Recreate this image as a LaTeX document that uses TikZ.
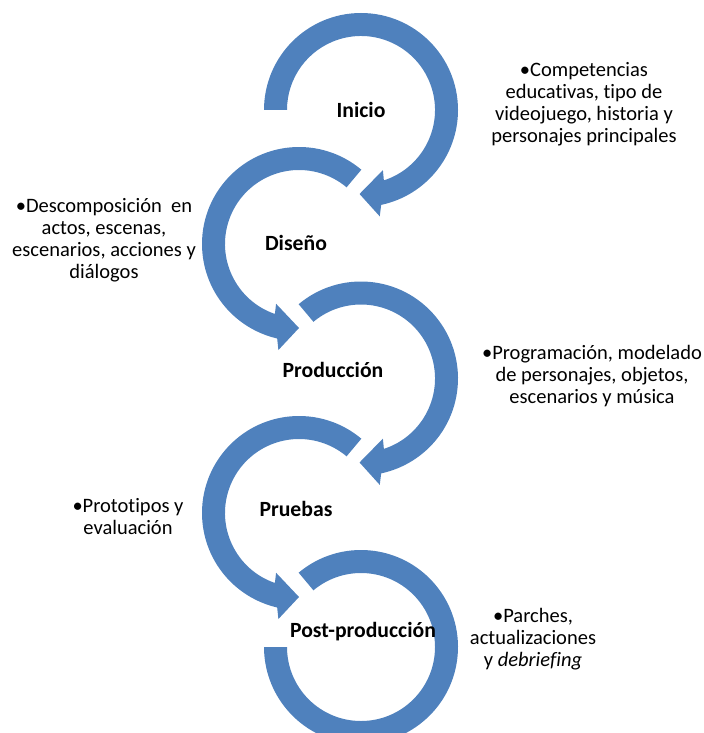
\documentclass[tikz,border=0pt]{standalone}
\usepackage{fontspec}
\setmainfont{Carlito}[Ligatures=NoCommon]
\usepackage{tikz}
\definecolor{ringblue}{RGB}{79,129,189}
\tikzstyle{ring} = [fill=ringblue]
\tikzstyle{stage} = [font=\fontsize{21.7bp}{24bp}\selectfont\bfseries, inner sep=0pt]
\tikzstyle{note} = [font=\fontsize{20.5bp}{22bp}\selectfont, align=center, inner sep=0pt]

\begin{document}
\begin{tikzpicture}[x=1bp, y=1bp]
    \clip (0,0) rectangle (704,-733);
    \coordinate (c1) at (361,-110);
    \coordinate (c2) at (299,-244);
    \coordinate (c3) at (361,-378.5);
    \coordinate (c4) at (299,-513);
    \coordinate (c5) at (361,-647);
    % bands with heads: centre / start / tip / turn
    \foreach \c/\s/\t/\d in {c1/180/-91/1, c2/50/270/-1, c3/130/-91/1, c4/50/270/-1}
        \fill[ring, shift={(\c)}] (\s:97bp) arc[start angle=\s, end angle={\t+\d*13}, radius=97bp]
            -- ({\t+\d*11}:108bp) -- (\t:84bp) -- ({\t+\d*21}:64bp) -- ({\t+\d*19}:74bp)
            arc[start angle={\t+\d*19}, end angle=\s, radius=74bp] -- cycle;
    \fill[ring, shift={(c5)}] (130:97bp) arc[start angle=130, end angle=-180, radius=97bp]
        -- (180:74bp) arc[start angle=-180, end angle=130, radius=74bp] -- cycle;

    \node[stage] (ini) at (361,-110) {Inicio};
    \node[stage] (dis) at (296,-243) {Diseño};
    \node[stage] (pro) at (333,-370) {Producción};
    \node[stage] (pru) at (296,-509) {Pruebas};
    \node[stage] (post) at (363,-632) {Post-producción};

    \node[note] (iniN) at (584,-104) {•Competencias\\educativas, tipo de\\videojuego, historia y\\personajes principales};
    \node[note] (disN) at (104,-240) {•Descomposición~ en\\actos, escenas,\\escenarios, acciones y\\diálogos};
    \node[note] (proN) at (592,-376) {•Programación, modelado\\de personajes, objetos,\\escenarios y música};
    \node[note] (pruN) at (128,-517) {•Prototipos y\\evaluación};
    \node[note] (postN) at (533,-639) {•Parches,\\actualizaciones\\y \textit{debriefing}};
\end{tikzpicture}
\end{document}
